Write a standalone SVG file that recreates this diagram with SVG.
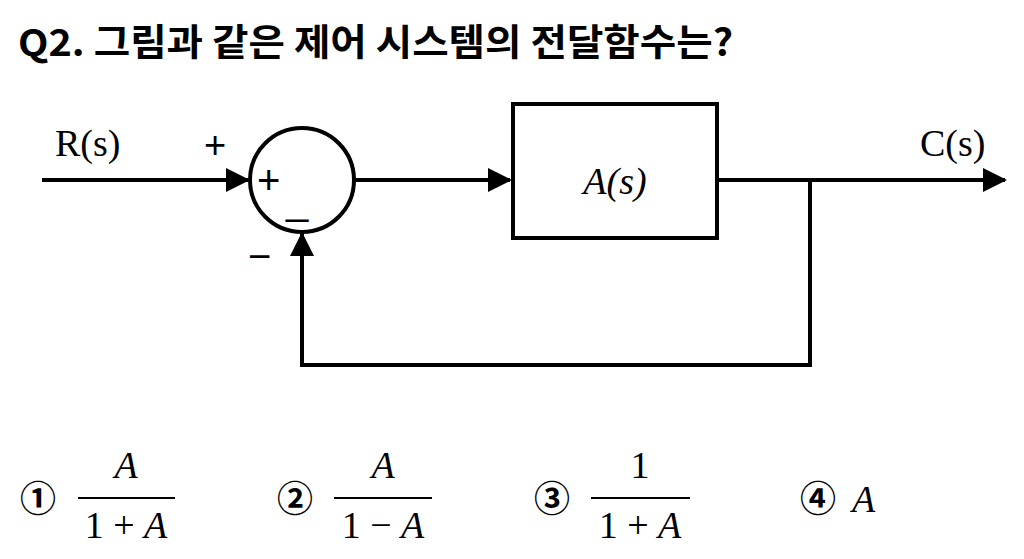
<svg xmlns="http://www.w3.org/2000/svg" width="1024" height="559" viewBox="0 0 1024 559">
<style>
.l{stroke:#000;stroke-width:4;fill:none}
.s{font-family:"Liberation Serif",serif;font-size:38px}
.m{font-family:"Liberation Serif",serif;font-size:38px;font-style:italic}
.k{font-family:"Noto Sans CJK KR",sans-serif;font-weight:bold}
</style>
<defs><marker id="b" viewBox="0 0 24 24" markerWidth="24" markerHeight="24" refX="22" refY="12" orient="auto" markerUnits="userSpaceOnUse"><path d="M0,0L24,12L0,24z"/></marker></defs>
<rect width="1024" height="559" fill="#fff"/>
<text class="k" x="18" y="56" font-size="37" textLength="715" lengthAdjust="spacingAndGlyphs">Q2. 그림과 같은 제어 시스템의 전달함수는?</text>
<g id="sum"><circle class="l" cx="302" cy="180" r="52"/><text x="257" y="194" font-family="Liberation Sans,sans-serif" font-size="40">+</text><text x="286" y="214" font-family="Liberation Sans,sans-serif" font-size="40">_</text></g>
<g id="block"><rect class="l" x="513" y="104" width="204" height="134"/><text class="m" x="615" y="194" text-anchor="middle" font-size="46">A(s)</text></g>
<g id="connectors">
<path class="l" d="M42,180H248" marker-end="url(#b)"/>
<path class="l" d="M354,180H510" marker-end="url(#b)"/>
<path class="l" d="M717,180H1005" marker-end="url(#b)"/>
<path class="l" d="M810,180V365H302V234" marker-end="url(#b)"/>
</g>
<text class="s" x="55" y="156">R(s)</text>
<text x="204" y="158" font-family="Liberation Sans,sans-serif" font-size="38">+</text>
<text x="248" y="270" font-family="Liberation Sans,sans-serif" font-size="40">−</text>
<text class="s" x="920" y="156">C(s)</text>
<g id="opts">
<text class="k" x="20" y="512" font-size="36">①</text>
<text class="m" x="126" y="478" text-anchor="middle">A</text><path d="M78,498H175" stroke="#000" stroke-width="2"/><text class="s" x="126" y="538" text-anchor="middle">1 + <tspan font-style="italic">A</tspan></text>
<text class="k" x="277" y="512" font-size="36">②</text>
<text class="m" x="383" y="478" text-anchor="middle">A</text><path d="M334,498H432" stroke="#000" stroke-width="2"/><text class="s" x="383" y="538" text-anchor="middle">1 − <tspan font-style="italic">A</tspan></text>
<text class="k" x="534" y="512" font-size="36">③</text>
<text class="s" x="640" y="478" text-anchor="middle">1</text><path d="M591,498H690" stroke="#000" stroke-width="2"/><text class="s" x="640" y="538" text-anchor="middle">1 + <tspan font-style="italic">A</tspan></text>
<text class="k" x="800" y="512" font-size="36">④</text>
<text class="m" x="852" y="512">A</text>
</g>
</svg>
